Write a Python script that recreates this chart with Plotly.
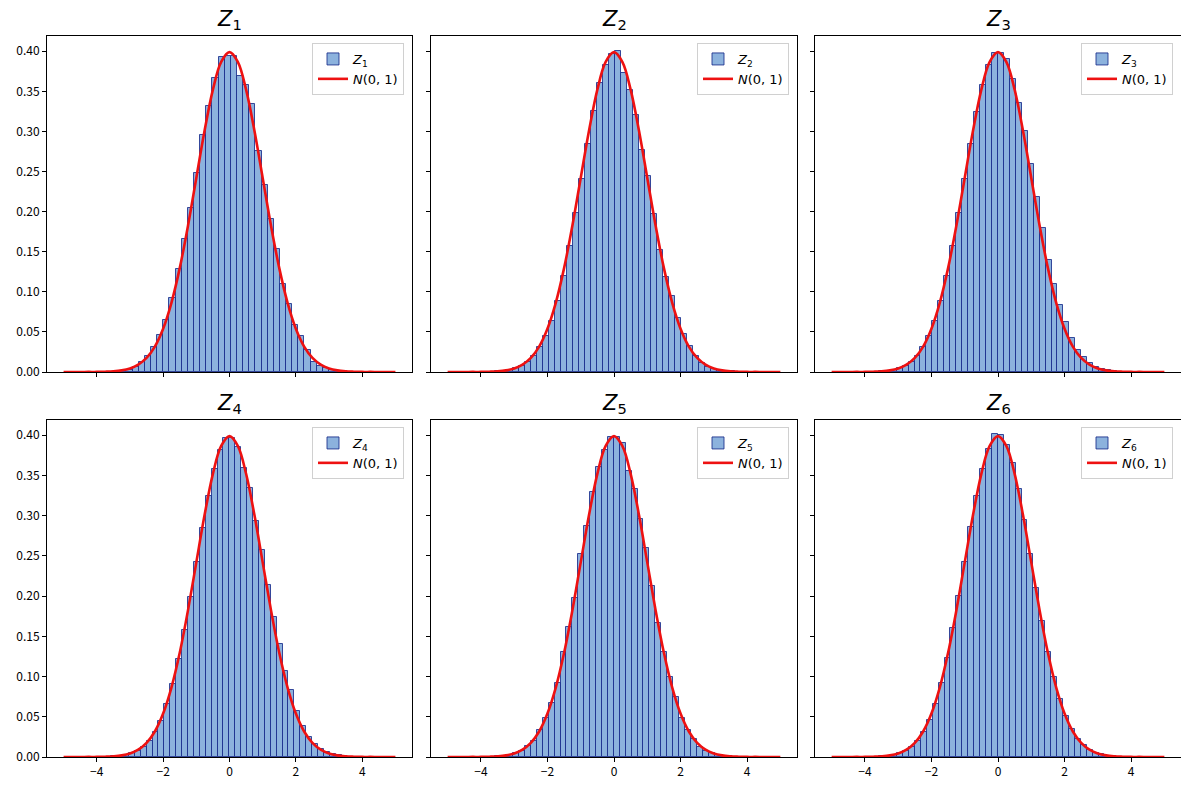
import plotly.graph_objects as go

# histogram data: bin start, bin width, bar heights (density)
z1_start = -3.845
z1_width = 0.185
z1_heights = [0.0002, 0.0003, 0.0008, 0.0015, 0.003, 0.006, 0.013, 0.020, 0.031, 0.046,
              0.065, 0.092, 0.129, 0.166, 0.204, 0.248, 0.296, 0.332, 0.367, 0.393,
              0.394, 0.394, 0.369, 0.358, 0.334, 0.276, 0.233, 0.191, 0.153, 0.110,
              0.085, 0.059, 0.045, 0.027, 0.013, 0.008, 0.005, 0.003, 0.0018, 0.001,
              0.0005, 0.0003, 0.0001]

z2_start = -3.93
z2_width = 0.18
z2_heights = [0.0002, 0.0004, 0.0008, 0.0015, 0.0025, 0.005, 0.008, 0.013, 0.020, 0.031,
              0.045, 0.064, 0.089, 0.120, 0.157, 0.198, 0.241, 0.284, 0.325, 0.360,
              0.383, 0.396, 0.400, 0.373, 0.352, 0.320, 0.277, 0.245, 0.197, 0.152,
              0.119, 0.095, 0.067, 0.048, 0.032, 0.020, 0.011, 0.006, 0.004, 0.0025,
              0.0015, 0.0008, 0.0004, 0.0002]

z3_start = -3.941
z3_width = 0.179
z3_heights = [0.0003, 0.0005, 0.0009, 0.0016, 0.003, 0.005, 0.008, 0.013, 0.020, 0.031,
              0.045, 0.064, 0.089, 0.120, 0.157, 0.198, 0.241, 0.284, 0.324, 0.358,
              0.383, 0.398, 0.398, 0.390, 0.365, 0.336, 0.300, 0.259, 0.218, 0.180,
              0.140, 0.110, 0.083, 0.062, 0.043, 0.028, 0.019, 0.011, 0.0065, 0.004,
              0.0022, 0.0012, 0.0006, 0.0003]

z4_start = -3.92
z4_width = 0.178
z4_heights = [0.0003, 0.0005, 0.0009, 0.0016, 0.003, 0.005, 0.008, 0.013, 0.020, 0.031,
              0.045, 0.066, 0.091, 0.122, 0.158, 0.199, 0.242, 0.285, 0.325, 0.358,
              0.382, 0.397, 0.397, 0.385, 0.359, 0.334, 0.293, 0.257, 0.214, 0.174,
              0.140, 0.107, 0.083, 0.057, 0.038, 0.025, 0.016, 0.010, 0.006, 0.0035,
              0.002, 0.0012, 0.0006, 0.0003]

z5_start = -3.92
z5_width = 0.178
z5_heights = [0.0002, 0.0004, 0.0008, 0.0015, 0.0028, 0.005, 0.008, 0.014, 0.020, 0.034,
              0.048, 0.067, 0.092, 0.130, 0.162, 0.198, 0.252, 0.287, 0.329, 0.360,
              0.382, 0.398, 0.398, 0.390, 0.355, 0.333, 0.296, 0.260, 0.212, 0.167,
              0.130, 0.100, 0.074, 0.049, 0.034, 0.023, 0.013, 0.008, 0.005, 0.003,
              0.0018, 0.001, 0.0005, 0.0003]

z6_start = -3.92
z6_width = 0.178
z6_heights = [0.0002, 0.0004, 0.0009, 0.0016, 0.003, 0.005, 0.008, 0.013, 0.020, 0.031,
              0.046, 0.066, 0.092, 0.123, 0.160, 0.200, 0.243, 0.286, 0.325, 0.358,
              0.383, 0.401, 0.400, 0.388, 0.365, 0.333, 0.295, 0.253, 0.210, 0.169,
              0.131, 0.099, 0.072, 0.051, 0.035, 0.023, 0.015, 0.009, 0.0055, 0.0032,
              0.0018, 0.001, 0.0005, 0.0003]

# N(0,1) curve, read at steps of 0.25 from -5 to 5
curve_x = [-5.0, -4.75, -4.5, -4.25, -4.0, -3.75, -3.5, -3.25, -3.0, -2.75, -2.5,
           -2.25, -2.0, -1.75, -1.5, -1.25, -1.0, -0.75, -0.5, -0.25, 0.0,
           0.25, 0.5, 0.75, 1.0, 1.25, 1.5, 1.75, 2.0, 2.25, 2.5,
           2.75, 3.0, 3.25, 3.5, 3.75, 4.0, 4.25, 4.5, 4.75, 5.0]
curve_y = [0.0, 0.0, 0.0, 0.0001, 0.0001, 0.0004, 0.0009, 0.0020, 0.0044, 0.0091, 0.0175,
           0.0317, 0.0540, 0.0863, 0.1295, 0.1826, 0.2420, 0.3011, 0.3521, 0.3867, 0.3989,
           0.3867, 0.3521, 0.3011, 0.2420, 0.1826, 0.1295, 0.0863, 0.0540, 0.0317, 0.0175,
           0.0091, 0.0044, 0.0020, 0.0009, 0.0004, 0.0001, 0.0001, 0.0, 0.0, 0.0]

names = ["1", "2", "3", "4", "5", "6"]
starts = [z1_start, z2_start, z3_start, z4_start, z5_start, z6_start]
widths = [z1_width, z2_width, z3_width, z4_width, z5_width, z6_width]
heights = [z1_heights, z2_heights, z3_heights, z4_heights, z5_heights, z6_heights]

ytick_vals = [0.0, 0.05, 0.10, 0.15, 0.20, 0.25, 0.30, 0.35, 0.40]
ytick_text = ["0.00", "0.05", "0.10", "0.15", "0.20", "0.25", "0.30", "0.35", "0.40"]
xtick_vals = [-4, -2, 0, 2, 4]
xtick_text = ["\u22124", "\u22122", "0", "2", "4"]

# the page body has an 8px margin, so the figure is 8px smaller and positions are shifted
PAD = 8
W, H = 1189 - PAD, 790 - PAD
col_px = [(47 - PAD, 412 - PAD), (431 - PAD, 797 - PAD), (815 - PAD, 1181 - PAD)]
row_px = [(36 - PAD, 372 - PAD), (420 - PAD, 757 - PAD)]

tick_font = dict(family="Noto Sans CJK JP", size=12, color="black")
fig = go.Figure()

for i in range(6):
    r, c = divmod(i, 3)
    ax = "" if i == 0 else str(i + 1)
    w = widths[i]
    centers = [starts[i] + w * (k + 0.5) for k in range(len(heights[i]))]
    leg = "legend" if i == 0 else "legend" + str(i + 1)
    fig.add_trace(go.Bar(x=centers, y=heights[i], width=w,
                         marker=dict(color="rgba(120,165,215,0.85)",
                                     line=dict(color="rgba(25,45,140,0.85)", width=1)),
                         name="<i>Z</i><sub>%s</sub>" % names[i],
                         xaxis="x" + ax, yaxis="y" + ax, legend=leg))
    fig.add_trace(go.Scatter(x=curve_x, y=curve_y, mode="lines", line_shape="spline",
                             line=dict(color="#ee1111", width=2.6),
                             name="<i>N</i>(0, 1)",
                             xaxis="x" + ax, yaxis="y" + ax, legend=leg))

    x0, x1 = col_px[c]
    y0, y1 = row_px[r]
    common = dict(showline=True, linecolor="black", linewidth=1, mirror=True,
                  ticks="outside", ticklen=4, tickcolor="black", showgrid=False,
                  zeroline=False, tickfont=tick_font, automargin=False)
    fig.layout["xaxis" + ax] = dict(domain=[x0 / W, x1 / W], range=[-5.5, 5.5],
                                    anchor="y" + ax, tickvals=xtick_vals, ticktext=xtick_text,
                                    showticklabels=(r == 1), **common)
    fig.layout["yaxis" + ax] = dict(domain=[1 - y1 / H, 1 - y0 / H], range=[0, 0.419],
                                    anchor="x" + ax, tickvals=ytick_vals, ticktext=ytick_text,
                                    showticklabels=(c == 0), **common)
    fig.layout[leg] = dict(x=(x1 - 8) / W, y=1 - (y0 + 7) / H, xanchor="right", yanchor="top",
                           bgcolor="rgba(255,255,255,0.8)", bordercolor="#d0d0d0", borderwidth=1,
                           font=dict(family="DejaVu Sans", size=13, color="black"),
                           tracegroupgap=2, itemwidth=30)
    fig.add_annotation(x=(x0 + x1) / 2 / W, y=1 - y0 / H, xref="paper", yref="paper",
                       text="<i>Z</i><sub>%s</sub>" % names[i], showarrow=False,
                       xanchor="center", yanchor="bottom", yshift=1,
                       font=dict(family="DejaVu Sans", size=21, color="black"))

fig.update_layout(width=W, height=H, margin=dict(l=0, r=0, t=0, b=0),
                  plot_bgcolor="white", paper_bgcolor="white", bargap=0,
                  showlegend=True)
fig.write_html("out.html")
